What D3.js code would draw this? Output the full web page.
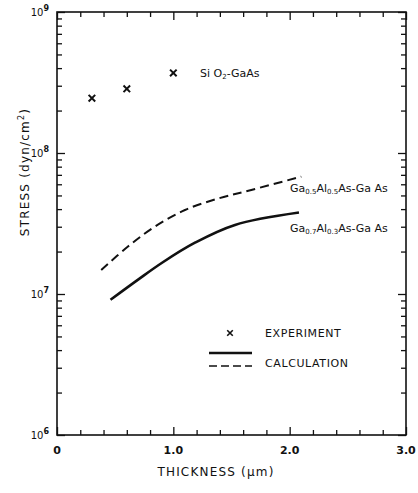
<!DOCTYPE html>
<html>
<head>
<meta charset="utf-8">
<script src="https://cdn.jsdelivr.net/npm/d3@7"></script>
<style>
  body { margin: 0; background: #fff; }
  svg { font-family: "DejaVu Sans", sans-serif; }
</style>
</head>
<body>
<div id="chart"></div>
<script>
// valores
const expThickness = [0.3, 0.6, 1.0];
const expStress = [2.45e8, 2.85e8, 3.7e8];

const dashThickness = [0.38, 0.61, 0.84, 1.10, 1.39, 1.67, 2.10];
const dashStress = [1.48e7, 2.17e7, 3.0e7, 3.94e7, 4.77e7, 5.47e7, 6.8e7];

const solidThickness = [0.46, 0.70, 0.90, 1.19, 1.53, 2.08];
const solidStress = [9.1e6, 1.27e7, 1.66e7, 2.32e7, 3.09e7, 3.78e7];

const xMajor = [0, 1, 2, 3];
const xLabels = ["0", "1.0", "2.0", "3.0"];
const yMajor = [1e6, 1e7, 1e8, 1e9];
const yExp = ["6", "7", "8", "9"];

const width = 418, height = 493;
const x = d3.scaleLinear().domain([0, 3]).range([57, 406]);
const y = d3.scaleLog().domain([1e6, 1e9]).range([435, 12]);

const svg = d3.select("#chart").append("svg")
  .attr("width", width)
  .attr("height", height);

// marco
svg.append("rect")
  .attr("x", x(0)).attr("y", y(1e9))
  .attr("width", x(3) - x(0)).attr("height", y(1e6) - y(1e9))
  .attr("fill", "none").attr("stroke", "#111").attr("stroke-width", 1.6);

// ticks menores en x (cada 0.2)
const xMinor = d3.range(0, 15).map(i => i * 0.2).filter(v => Math.abs(v - Math.round(v)) > 1e-6);
const yMinor = [];
[1e6, 1e7, 1e8].forEach(d => { for (let k = 2; k <= 9; k++) yMinor.push(d * k); });

function styleAxis(g) {
  g.select(".domain").remove();
  g.selectAll("line").attr("stroke", "#111").attr("stroke-width", 1.3);
}

svg.append("g").attr("transform", `translate(0,${y(1e6)})`)
  .call(d3.axisBottom(x).tickValues(xMinor).tickSize(-5).tickFormat(""))
  .call(styleAxis);
svg.append("g").attr("transform", `translate(0,${y(1e6)})`)
  .call(d3.axisBottom(x).tickValues(xMajor).tickSize(-8).tickFormat(""))
  .call(styleAxis);
svg.append("g").attr("transform", `translate(0,${y(1e9)})`)
  .call(d3.axisTop(x).tickValues(xMinor).tickSize(-5).tickFormat(""))
  .call(styleAxis);
svg.append("g").attr("transform", `translate(0,${y(1e9)})`)
  .call(d3.axisTop(x).tickValues(xMajor).tickSize(-8).tickFormat(""))
  .call(styleAxis);

svg.append("g").attr("transform", `translate(${x(0)},0)`)
  .call(d3.axisLeft(y).tickValues(yMinor).tickSize(-5).tickFormat(""))
  .call(styleAxis);
svg.append("g").attr("transform", `translate(${x(0)},0)`)
  .call(d3.axisLeft(y).tickValues(yMajor).tickSize(-8).tickFormat(""))
  .call(styleAxis);
svg.append("g").attr("transform", `translate(${x(3)},0)`)
  .call(d3.axisRight(y).tickValues(yMinor).tickSize(-5).tickFormat(""))
  .call(styleAxis);
svg.append("g").attr("transform", `translate(${x(3)},0)`)
  .call(d3.axisRight(y).tickValues(yMajor).tickSize(-8).tickFormat(""))
  .call(styleAxis);

// etiquetas de ticks
svg.append("g").selectAll("text")
  .data(xMajor)
  .join("text")
    .attr("x", d => x(d))
    .attr("y", y(1e6) + 19)
    .attr("text-anchor", "middle")
    .attr("font-size", 11)
    .attr("font-weight", "bold")
    .attr("fill", "#111")
    .text((d, i) => xLabels[i]);

const yl = svg.append("g").selectAll("text")
  .data(yMajor)
  .join("text")
    .attr("x", x(0) - 8)
    .attr("y", d => y(d) + 4)
    .attr("text-anchor", "end")
    .attr("font-size", 10)
    .attr("fill", "#111");
yl.append("tspan").text("10");
yl.append("tspan").attr("dy", -5).attr("font-size", 8).attr("font-weight", "bold").text((d, i) => yExp[i]);

// titulos de ejes
svg.append("text")
  .attr("x", 216).attr("y", 476)
  .attr("text-anchor", "middle")
  .attr("font-size", 12)
  .attr("letter-spacing", 1.2)
  .attr("fill", "#111")
  .text("THICKNESS  (\u00b5m)");

const yt = svg.append("text")
  .attr("transform", "translate(29,172) rotate(-90)")
  .attr("text-anchor", "middle")
  .attr("font-size", 12)
  .attr("letter-spacing", 1.2)
  .attr("fill", "#111");
yt.append("tspan").text("STRESS  (dyn/cm");
yt.append("tspan").attr("dy", -5).attr("font-size", 8).text("2");
yt.append("tspan").attr("dy", 5).text(")");

// curvas calculadas
const line = d3.line()
  .x(d => x(d[0]))
  .y(d => y(d[1]))
  .curve(d3.curveCatmullRom);

svg.append("path")
  .datum(d3.zip(dashThickness, dashStress))
  .attr("d", line)
  .attr("fill", "none")
  .attr("stroke", "#111")
  .attr("stroke-width", 2)
  .attr("stroke-dasharray", "9,5");

svg.append("path")
  .datum(d3.zip(solidThickness, solidStress))
  .attr("d", line)
  .attr("fill", "none")
  .attr("stroke", "#111")
  .attr("stroke-width", 2.6);

// puntos experimentales (cruces)
const cross = d3.symbol().type(d3.symbolTimes).size(30);
svg.append("g").selectAll("path")
  .data(d3.zip(expThickness, expStress))
  .join("path")
    .attr("transform", d => `translate(${x(d[0])},${y(d[1])})`)
    .attr("d", cross)
    .attr("fill", "none")
    .attr("stroke", "#111")
    .attr("stroke-width", 2);

// etiquetas de series
function label(px, py, parts) {
  const t = svg.append("text")
    .attr("x", px).attr("y", py)
    .attr("font-size", 11)
    .attr("fill", "#111");
  parts.forEach(p => {
    t.append("tspan")
      .attr("dy", p.sub ? 2 : (p.back ? -2 : 0))
      .attr("font-size", p.sub ? 7 : 11)
      .text(p.t);
  });
}

label(200, 77, [{t: "Si O"}, {t: "2", sub: true}, {t: "-GaAs", back: true}]);
label(290, 192, [{t: "Ga"}, {t: "0.5", sub: true}, {t: "Al", back: true}, {t: "0.5", sub: true}, {t: "As-Ga As", back: true}]);
label(290, 232, [{t: "Ga"}, {t: "0.7", sub: true}, {t: "Al", back: true}, {t: "0.3", sub: true}, {t: "As-Ga As", back: true}]);

// leyenda
svg.append("path")
  .attr("transform", "translate(230,333)")
  .attr("d", d3.symbol().type(d3.symbolTimes).size(22))
  .attr("fill", "none")
  .attr("stroke", "#111")
  .attr("stroke-width", 1.6);
svg.append("text")
  .attr("x", 265).attr("y", 337)
  .attr("font-size", 11)
  .attr("letter-spacing", 0.6)
  .attr("fill", "#111")
  .text("EXPERIMENT");

svg.append("line")
  .attr("x1", 209).attr("x2", 252).attr("y1", 353).attr("y2", 353)
  .attr("stroke", "#111").attr("stroke-width", 2.6);
svg.append("line")
  .attr("x1", 209).attr("x2", 252).attr("y1", 366).attr("y2", 366)
  .attr("stroke", "#111").attr("stroke-width", 1.5)
  .attr("stroke-dasharray", "8,4");
svg.append("text")
  .attr("x", 265).attr("y", 367)
  .attr("font-size", 11)
  .attr("letter-spacing", 0.6)
  .attr("fill", "#111")
  .text("CALCULATION");
</script>
</body>
</html>
